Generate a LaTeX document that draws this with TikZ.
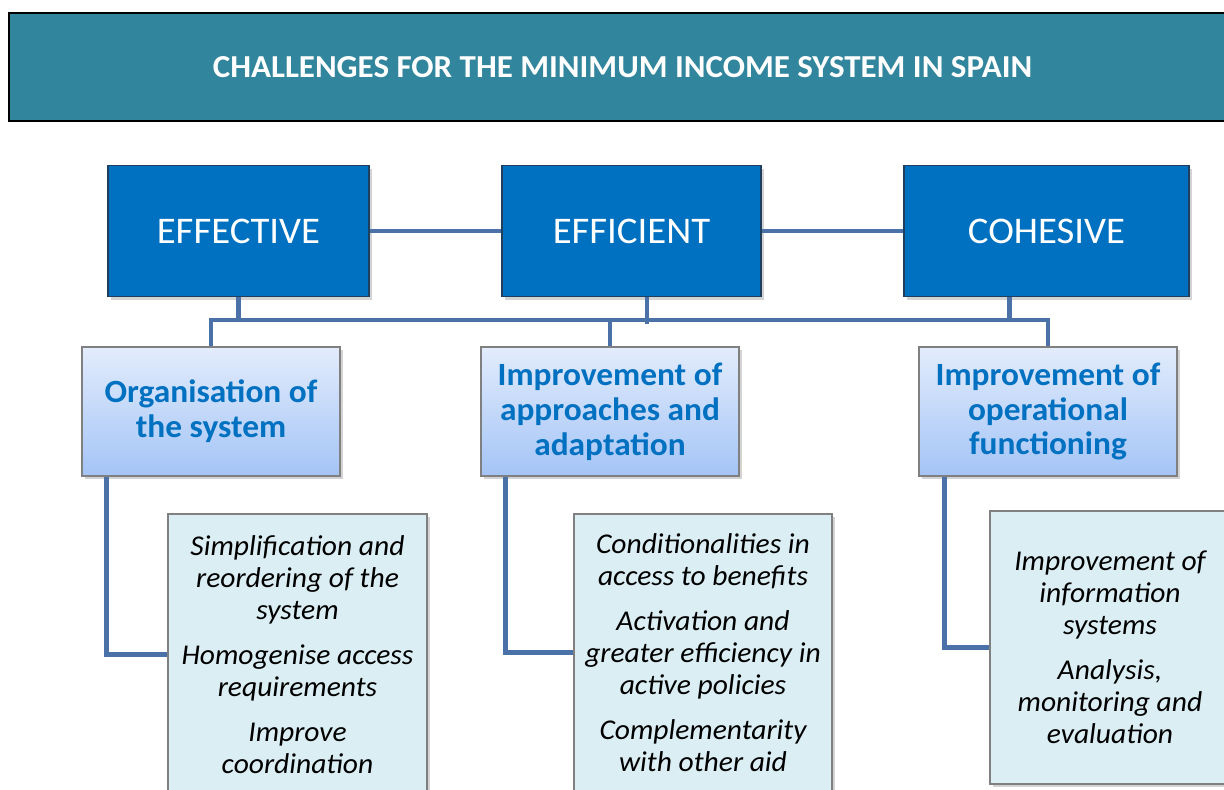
\documentclass[tikz,border=0pt]{standalone}
\usepackage{fontspec}
\setmainfont{Carlito}[FakeStretch=1.03]
\usetikzlibrary{calc,shadows}
\definecolor{titlec}{HTML}{31859C}
\definecolor{topc}{HTML}{0070C0}
\definecolor{topborder}{HTML}{1F3F5F}
\definecolor{linec}{HTML}{4A72A8}
\definecolor{midtop}{HTML}{E2ECFC}
\definecolor{midbot}{HTML}{A4C4F6}
\definecolor{midtext}{HTML}{0070C0}
\definecolor{botc}{HTML}{DAEEF3}
\definecolor{boxborder}{HTML}{808080}
\begin{document}
\begin{tikzpicture}[x=0.75pt,y=-0.75pt,
  shadowed/.style={drop shadow={opacity=0.35,shadow xshift=2pt,shadow yshift=-2.5pt}},
  titlebox/.style={draw=black,line width=1.5pt,fill=titlec,text=white,
    font=\bfseries\fontsize{24}{28}\selectfont,inner sep=0pt,
    minimum width=920.25pt,minimum height=81pt},
  topbox/.style={draw=topborder,line width=0.8pt,fill=topc,text=white,shadowed,
    font=\fontsize{28.2}{32}\selectfont,inner sep=0pt,minimum height=98pt},
  midbox/.style={draw=boxborder,line width=1pt,top color=midtop,bottom color=midbot,
    text=midtext,shadowed,align=center,font=\bfseries\fontsize{24.3}{26.2}\selectfont,
    inner sep=0pt,minimum width=193.5pt,minimum height=96.75pt},
  botbox/.style={draw=boxborder,line width=1pt,fill=botc,text=black,shadowed,align=center,
    font=\itshape\fontsize{21.5}{24}\selectfont,inner sep=0pt},
  conn/.style={draw=linec,line width=3.6pt}
]
\useasboundingbox (0,0) rectangle (1224,789);
\clip (0,0) rectangle (1224,789);

% title
\node[titlebox] (title) at (622.5,67) {CHALLENGES FOR THE MINIMUM INCOME SYSTEM IN SPAIN};

% top level
\node[topbox,minimum width=195.75pt] (eff) at (238.5,231) {EFFECTIVE};
\node[topbox,minimum width=194.25pt] (efi) at (631.5,231) {EFFICIENT};
\node[topbox,minimum width=213.75pt] (coh) at (1046.5,231) {COHESIVE};

% middle level
\node[midbox] (org) at (211,411.5) {Organisation of\\the system};
\node[midbox] (app) at (610,411.5) {Improvement of\\approaches and\\adaptation};
\node[midbox] (ope) at (1048,411.5) {Improvement of\\operational\\functioning};

% bottom level
\node[botbox,minimum width=194.25pt,minimum height=210.75pt] (b1) at (297.5,654.5)
  {Simplification and\\reordering of the\\system\\[9.5pt]Homogenise access\\requirements\\[9.5pt]Improve\\coordination};
\node[botbox,minimum width=193.5pt,minimum height=207.75pt] (b2) at (703,652.5)
  {Conditionalities in\\access to benefits\\[9.5pt]Activation and\\greater efficiency in\\active policies\\[9.5pt]Complementarity\\with other aid};
\node[botbox,minimum width=180pt,minimum height=204.75pt] (b3) at (1110,647.5)
  {Improvement of\\information\\systems\\[9.5pt]Analysis,\\monitoring and\\evaluation};

% connectors
\coordinate (bus) at (0,320);
\draw[conn] (eff.east) -- (efi.west);
\draw[conn] (efi.east) -- (coh.west);
\draw[conn] (eff.south) -- (eff.south |- bus);
\draw[conn] ($(efi.south)+(15.5,0)$) -- ($(efi.south)+(15.5,27)$);
\draw[conn] ($(coh.south)+(-37,0)$) -- ($(coh.south)+(-37,24)$);
\draw[conn] (org.north) -- (org.north |- bus) -- (ope.north |- bus) -- (ope.north);
\draw[conn] (app.north) -- (app.north |- bus);
\draw[conn] ($(org.south west)+(25,0)$) |- (b1.west);
\draw[conn] ($(app.south west)+(25,0)$) |- (b2.west);
\draw[conn] ($(ope.south west)+(26,0)$) |- (b3.west);
\end{tikzpicture}
\end{document}
